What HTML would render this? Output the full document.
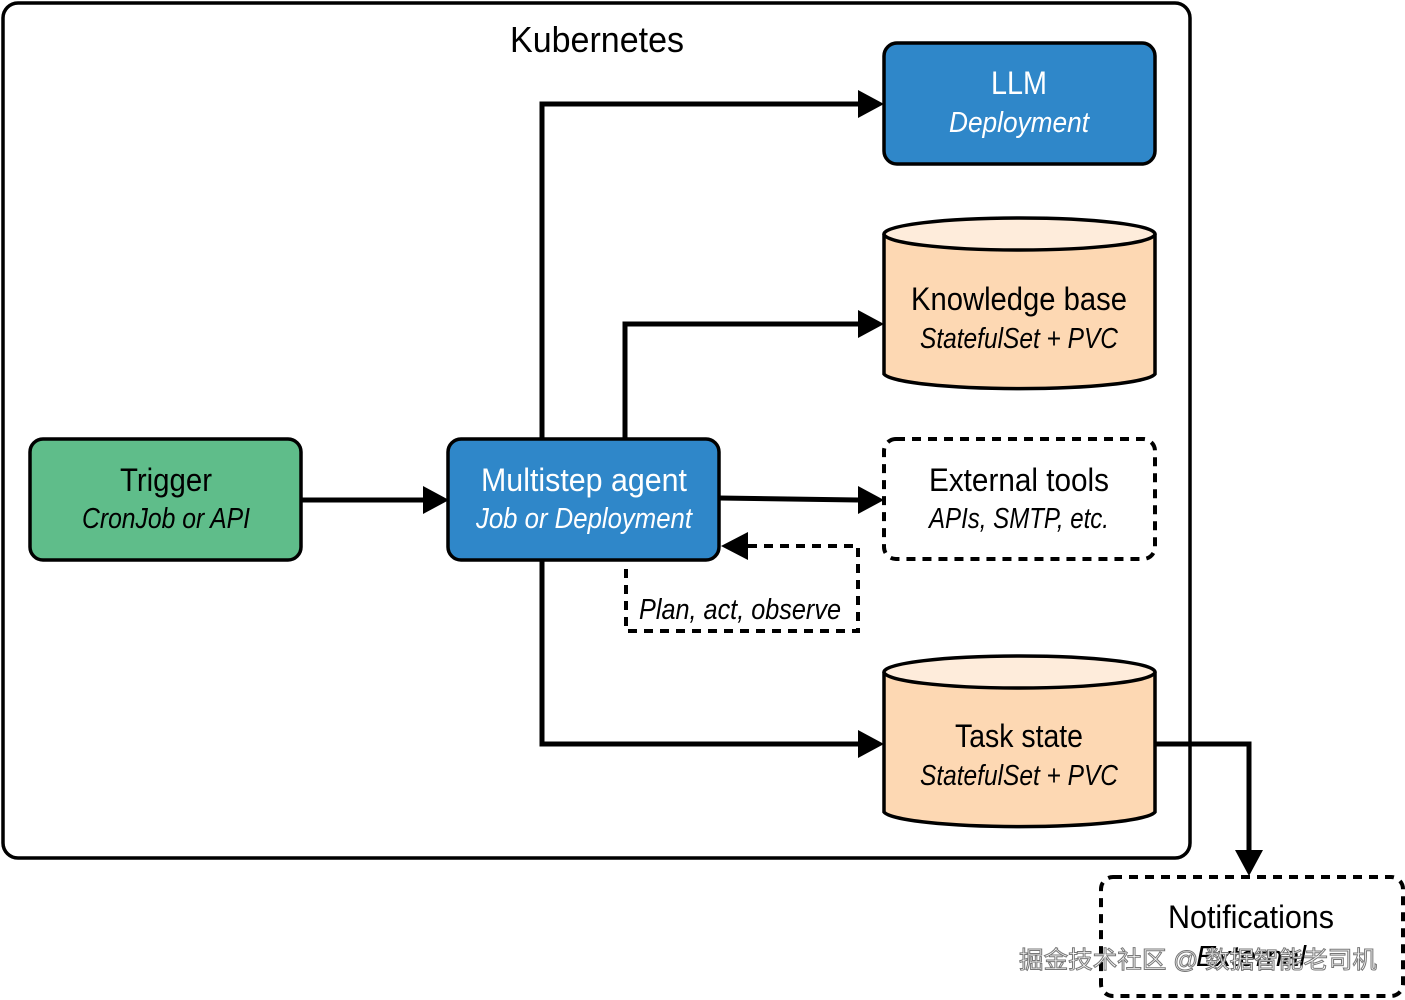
<!DOCTYPE html>
<html><head><meta charset="utf-8"><style>
html,body{margin:0;padding:0;background:#fff;width:1405px;height:1000px;overflow:hidden}
text{font-family:"Liberation Sans",sans-serif}
</style></head><body>
<svg width="1405" height="1000" viewBox="0 0 1405 1000" xmlns="http://www.w3.org/2000/svg">
<defs>
<marker id="ah" markerWidth="10" markerHeight="10" refX="9" refY="5" orient="auto" markerUnits="userSpaceOnUse" viewBox="0 0 10 10"><path d="M0,0 L10,5 L0,10 z" fill="#000"/></marker>
</defs>
<rect x="3" y="3" width="1187" height="855" rx="15" fill="#fff" stroke="#000" stroke-width="3.5"/>
<text x="597" y="52" font-size="36" text-anchor="middle" textLength="174" lengthAdjust="spacingAndGlyphs">Kubernetes</text>

<!-- connectors -->
<g fill="none" stroke="#000" stroke-width="5">
<path d="M542,438 V104 H858"/>
<path d="M625,438 V324 H858"/>
<path d="M719,498 L858,500"/>
<path d="M301,500 H423"/>
<path d="M542,560 V744 H858"/>
<path d="M1155,744 H1249 V850"/>
</g>
<g fill="#000">
<path d="M858,90 L884,104 L858,118 z"/>
<path d="M858,310 L884,324 L858,338 z"/>
<path d="M858,486 L884,500 L858,514 z"/>
<path d="M423,486 L449,500 L423,514 z"/>
<path d="M858,730 L884,744 L858,758 z"/>
<path d="M1235,850 L1249,876 L1263,850 z"/>
<path d="M748,532 L721,546 L748,560 z"/>
</g>
<path d="M748,546 H858 V631 H626 V562" fill="none" stroke="#000" stroke-width="4" stroke-dasharray="9,7"/>

<!-- LLM -->
<rect x="884" y="43" width="271" height="121" rx="13" fill="#2f87c9" stroke="#000" stroke-width="3.5"/>
<text x="1019" y="94" font-size="32" fill="#fff" text-anchor="middle" textLength="56" lengthAdjust="spacingAndGlyphs">LLM</text>
<text x="1019" y="132" font-size="29" fill="#fff" text-anchor="middle" font-style="italic" textLength="140" lengthAdjust="spacingAndGlyphs">Deployment</text>

<!-- Knowledge base -->
<path d="M884,234 V374 A136,16 0 0 0 1155,374 V234" fill="#fdd8b3" stroke="#000" stroke-width="3.5"/>
<ellipse cx="1019.5" cy="234" rx="135.5" ry="16" fill="#feecdb" stroke="#000" stroke-width="3.5"/>
<text x="1019" y="310" font-size="32" text-anchor="middle" textLength="216" lengthAdjust="spacingAndGlyphs">Knowledge base</text>
<text x="1019" y="348" font-size="29" text-anchor="middle" font-style="italic" textLength="198" lengthAdjust="spacingAndGlyphs">StatefulSet + PVC</text>

<!-- External tools -->
<rect x="884" y="439" width="271" height="120" rx="12" fill="#fff" stroke="#000" stroke-width="4" stroke-dasharray="9,7"/>
<text x="1019" y="491" font-size="32" text-anchor="middle" textLength="180" lengthAdjust="spacingAndGlyphs">External tools</text>
<text x="1019" y="528" font-size="29" text-anchor="middle" font-style="italic" textLength="180" lengthAdjust="spacingAndGlyphs">APIs, SMTP, etc.</text>

<!-- Trigger -->
<rect x="30" y="439" width="271" height="121" rx="13" fill="#5fbd8a" stroke="#000" stroke-width="3.5"/>
<text x="166" y="491" font-size="32" text-anchor="middle" textLength="92" lengthAdjust="spacingAndGlyphs">Trigger</text>
<text x="166" y="528" font-size="29" text-anchor="middle" font-style="italic" textLength="168" lengthAdjust="spacingAndGlyphs">CronJob or API</text>

<!-- Agent -->
<rect x="448" y="439" width="271" height="121" rx="13" fill="#2f87c9" stroke="#000" stroke-width="3.5"/>
<text x="584" y="491" font-size="32" fill="#fff" text-anchor="middle" textLength="206" lengthAdjust="spacingAndGlyphs">Multistep agent</text>
<text x="584" y="528" font-size="29" fill="#fff" text-anchor="middle" font-style="italic" textLength="216" lengthAdjust="spacingAndGlyphs">Job or Deployment</text>

<text x="740" y="619" font-size="29" text-anchor="middle" font-style="italic" textLength="202" lengthAdjust="spacingAndGlyphs">Plan, act, observe</text>

<!-- Task state -->
<path d="M884,672 V812 A136,16 0 0 0 1155,812 V672" fill="#fdd8b3" stroke="#000" stroke-width="3.5"/>
<ellipse cx="1019.5" cy="672" rx="135.5" ry="16" fill="#feecdb" stroke="#000" stroke-width="3.5"/>
<text x="1019" y="747" font-size="32" text-anchor="middle" textLength="128" lengthAdjust="spacingAndGlyphs">Task state</text>
<text x="1019" y="785" font-size="29" text-anchor="middle" font-style="italic" textLength="198" lengthAdjust="spacingAndGlyphs">StatefulSet + PVC</text>

<!-- Notifications -->
<rect x="1101" y="877" width="302" height="119" rx="12" fill="#fff" stroke="#000" stroke-width="4" stroke-dasharray="9,7"/>
<text x="1251" y="928" font-size="32" text-anchor="middle" textLength="166" lengthAdjust="spacingAndGlyphs">Notifications</text>
<text x="1251" y="966" font-size="29" text-anchor="middle" font-style="italic" textLength="110" lengthAdjust="spacingAndGlyphs">External</text>
<text x="1198" y="968" font-size="24" text-anchor="middle" fill="#fff" stroke="#777" stroke-width="1" font-family="'Liberation Sans','Noto Sans CJK SC',sans-serif" textLength="358" lengthAdjust="spacingAndGlyphs">掘金技术社区 @ 数据智能老司机</text>
</svg>
</body></html>
